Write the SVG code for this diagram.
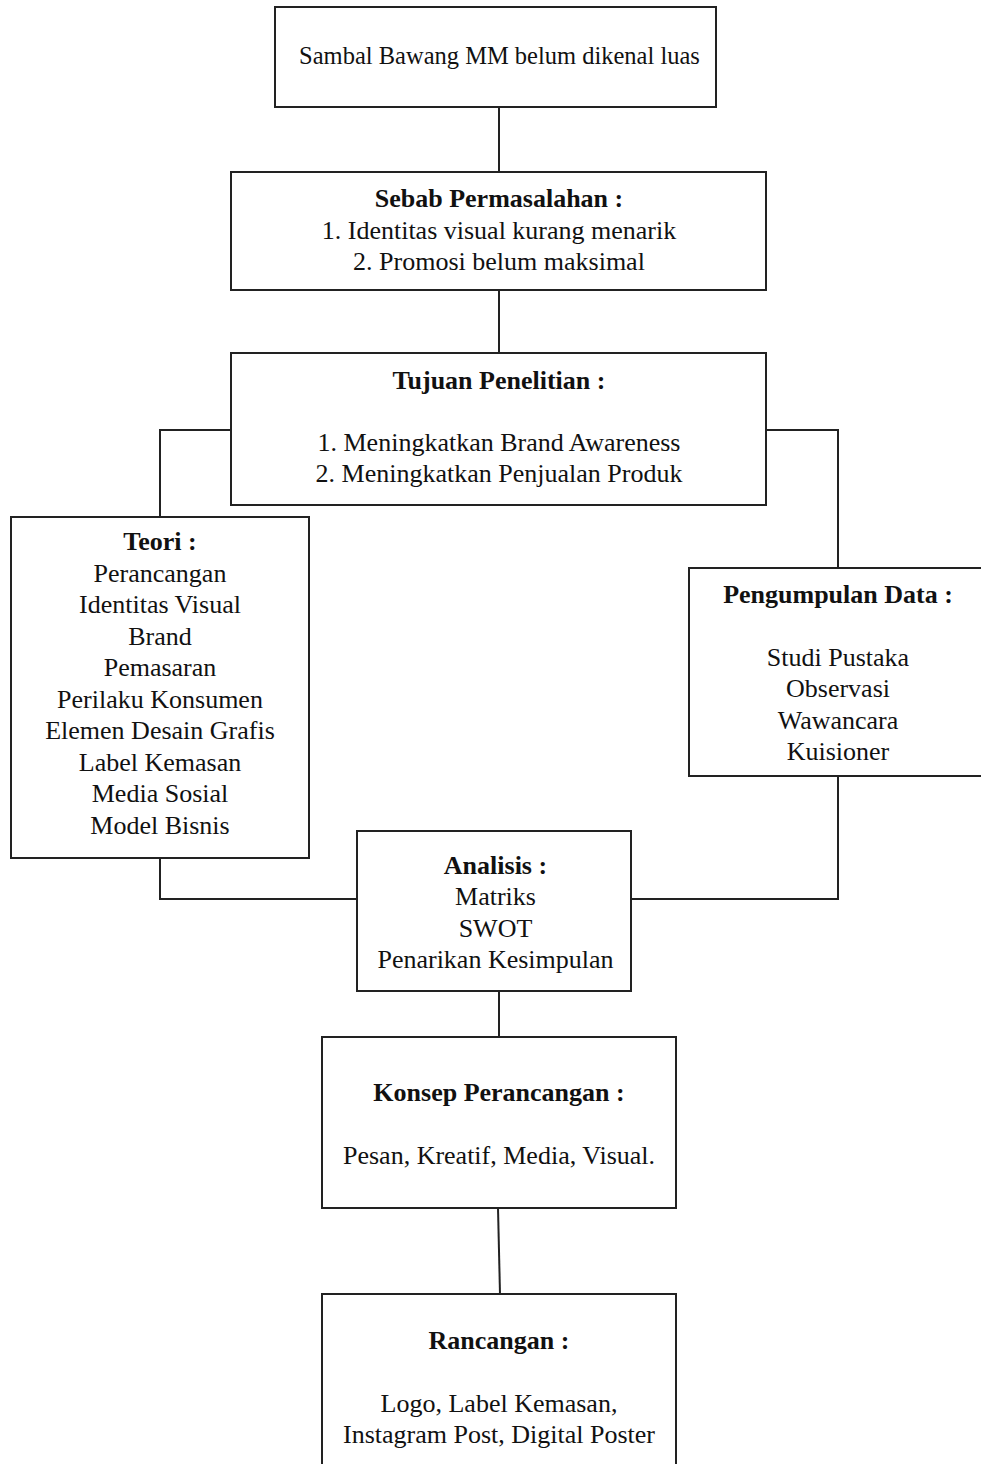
<svg xmlns="http://www.w3.org/2000/svg" width="981" height="1464" viewBox="0 0 981 1464">
<style>
.box{fill:#fff;stroke:#222;stroke-width:2}
.ln{fill:none;stroke:#222;stroke-width:2}
text{font-family:"Liberation Serif","Times New Roman",serif;font-size:26px;fill:#111;text-anchor:middle}
.s{font-size:24.5px}
.b{font-weight:bold}
</style>
<rect width="981" height="1464" fill="#fff"/>
<g id="connectors">
<line class="ln" x1="499" y1="107" x2="499" y2="172"/>
<line class="ln" x1="499" y1="290" x2="499" y2="353"/>
<polyline class="ln" points="231,430 160,430 160,517"/>
<polyline class="ln" points="766,430 838,430 838,568"/>
<polyline class="ln" points="160,858 160,899 357,899"/>
<polyline class="ln" points="631,899 838,899 838,776"/>
<line class="ln" x1="499" y1="991" x2="499" y2="1037"/>
<line class="ln" x1="498" y1="1208" x2="500" y2="1294"/>
</g>
<g id="n1">
<rect class="box" x="275" y="7" width="441" height="100"/>
<text class="s" x="499.5" y="64">Sambal Bawang MM belum dikenal luas</text>
</g>
<g id="n2">
<rect class="box" x="231" y="172" width="535" height="118"/>
<text class="b" x="499" y="207">Sebab Permasalahan :</text>
<text x="499" y="239">1. Identitas visual kurang menarik</text>
<text x="499" y="270">2. Promosi belum maksimal</text>
</g>
<g id="n3">
<rect class="box" x="231" y="353" width="535" height="152"/>
<text class="b" x="499" y="389">Tujuan Penelitian :</text>
<text x="499" y="451">1. Meningkatkan Brand Awareness</text>
<text x="499" y="482">2. Meningkatkan Penjualan Produk</text>
</g>
<g id="n4">
<rect class="box" x="11" y="517" width="298" height="341"/>
<text class="b" x="160" y="550">Teori :</text>
<text x="160" y="581.5">Perancangan</text>
<text x="160" y="613">Identitas Visual</text>
<text x="160" y="644.5">Brand</text>
<text x="160" y="676">Pemasaran</text>
<text x="160" y="707.5">Perilaku Konsumen</text>
<text x="160" y="739">Elemen Desain Grafis</text>
<text x="160" y="770.5">Label Kemasan</text>
<text x="160" y="802">Media Sosial</text>
<text x="160" y="833.5">Model Bisnis</text>
</g>
<g id="n5">
<rect class="box" x="689" y="568" width="300" height="208"/>
<text class="b" x="838" y="603">Pengumpulan Data :</text>
<text x="838" y="666">Studi Pustaka</text>
<text x="838" y="697">Observasi</text>
<text x="838" y="728.5">Wawancara</text>
<text x="838" y="760">Kuisioner</text>
</g>
<g id="n6">
<rect class="box" x="357" y="831" width="274" height="160"/>
<text class="b" x="495.5" y="874">Analisis :</text>
<text x="495.5" y="905">Matriks</text>
<text x="495.5" y="937">SWOT</text>
<text x="495.5" y="968">Penarikan Kesimpulan</text>
</g>
<g id="n7">
<rect class="box" x="322" y="1037" width="354" height="171"/>
<text class="b" x="499" y="1101">Konsep Perancangan :</text>
<text x="499" y="1164">Pesan, Kreatif, Media, Visual.</text>
</g>
<g id="n8">
<rect class="box" x="322" y="1294" width="354" height="190"/>
<text class="b" x="499" y="1349">Rancangan :</text>
<text x="499" y="1412">Logo, Label Kemasan,</text>
<text x="499" y="1443">Instagram Post, Digital Poster</text>
</g>
</svg>
